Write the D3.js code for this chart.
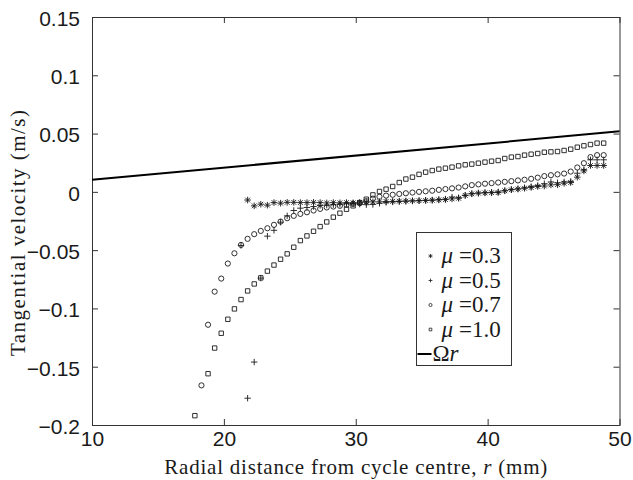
<!DOCTYPE html>
<html>
<head>
<meta charset="utf-8">
<script src="https://cdn.jsdelivr.net/npm/d3@7"></script>
<style>
  body { margin: 0; background: #fff; }
  svg { display: block; }
</style>
</head>
<body>
<div id="chart"></div>
<script>
// radial positions (mm) shared by all series
const rGrid = [
  17.8, 18.3, 18.8, 19.3, 19.8, 20.3, 20.8, 21.3, 21.8, 22.3,
  22.8, 23.3, 23.8, 24.3, 24.8, 25.3, 25.8, 26.3, 26.8, 27.3,
  27.8, 28.3, 28.8, 29.3, 29.8, 30.3, 30.8, 31.3, 31.8, 32.3,
  32.8, 33.3, 33.8, 34.3, 34.8, 35.3, 35.8, 36.3, 36.8, 37.3,
  37.8, 38.3, 38.8, 39.3, 39.8, 40.3, 40.8, 41.3, 41.8, 42.3,
  42.8, 43.3, 43.8, 44.3, 44.8, 45.3, 45.8, 46.3, 46.8, 47.3,
  47.8, 48.3, 48.8
];

// tangential velocity (m/s), null where no point is plotted
const mu03 = [
  null, null, null, null, null, null, null, null, -0.007, -0.012,
  -0.0106, -0.0114, -0.0092, -0.0097, -0.009, -0.009, -0.0092, -0.0092, -0.009, -0.0092,
  -0.0095, -0.0092, -0.0094, -0.0092, -0.0094, -0.009, -0.0088, -0.0086, -0.0085, -0.0083,
  -0.0082, -0.008, -0.0079, -0.0077, -0.0076, -0.0074, -0.0072, -0.0069, -0.0066, -0.006,
  -0.0055, -0.003, -0.0017, -0.0011, -0.0009, -0.0007, -0.0006, 0.0009, 0.0018, 0.0024,
  0.0031, 0.0038, 0.0046, 0.005, 0.006, 0.0062, 0.0074, 0.008, 0.0126, 0.018,
  0.0226, 0.0226, 0.0226
];
const mu05 = [
  null, null, null, null, null, null, null, -0.046, -0.177, -0.146,
  -0.074, -0.038, -0.033, -0.026, -0.0206, -0.016, -0.014, -0.0134, -0.0126, -0.0117,
  -0.0114, -0.011, -0.0106, -0.0102, -0.0099, -0.0105, -0.011, -0.0108, -0.0098, -0.009,
  -0.0086, -0.0083, -0.008, -0.0078, -0.0075, -0.0072, -0.007, -0.0066, -0.0062, -0.0045,
  -0.005, -0.003, -0.0015, -0.001, -0.0006, -0.0004, 0.0, 0.001, 0.002, 0.0026,
  0.0035, 0.0045, 0.0055, 0.007, 0.0085, 0.0078, 0.0085, 0.009, 0.016, 0.019,
  0.0275, 0.0275, 0.0275
];
const mu07 = [
  null, -0.166, -0.114, -0.0856, -0.0744, -0.0615, -0.0527, -0.0455, -0.0403, -0.0363,
  -0.0335, -0.0312, -0.0283, -0.0255, -0.0226, -0.0206, -0.0189, -0.0175, -0.016, -0.0146,
  -0.0134, -0.0126, -0.012, -0.0112, -0.0103, -0.0097, -0.008, -0.0058, -0.0042, -0.0032,
  -0.0025, -0.0018, -0.0012, -0.0006, 0.0, 0.0005, 0.001, 0.0017, 0.0024, 0.003,
  0.0037, 0.0047, 0.0058, 0.0064, 0.007, 0.0075, 0.008, 0.0086, 0.0092, 0.0098,
  0.0104, 0.0112, 0.0122, 0.0135, 0.0143, 0.015, 0.0157, 0.0174, 0.0209, 0.0246,
  0.0298, 0.0315, 0.0315
];
const mu10 = [
  -0.192, null, -0.156, -0.134, -0.1213, -0.1093, -0.1004, -0.0924, -0.085, -0.079,
  -0.0738, -0.068, -0.0628, -0.0578, -0.0532, -0.0475, -0.0418, -0.0378, -0.0338, -0.0298,
  -0.0258, -0.0217, -0.0183, -0.0149, -0.012, -0.0092, -0.0063, -0.0026, 0.0003, 0.0023,
  0.0046, 0.008, 0.011, 0.0126, 0.015, 0.0169, 0.0183, 0.0195, 0.0203, 0.0212,
  0.0223, 0.0232, 0.0238, 0.0246, 0.0255, 0.0263, 0.0269, 0.0286, 0.0298, 0.0303,
  0.0315, 0.0323, 0.0329, 0.034, 0.0343, 0.0346, 0.0355, 0.0366, 0.0383, 0.0395,
  0.0406, 0.0418, 0.0418
];

// solid-body rotation line, Omega*r
const omegaR = [0.0104, 0.0519];
const omegaRx = [10, 50];

const xTicks = [10, 20, 30, 40, 50];
const yTicks = [-0.2, -0.15, -0.1, -0.05, 0, 0.05, 0.1, 0.15];

const series = [
  { label: "0.3", values: mu03, marker: "star" },
  { label: "0.5", values: mu05, marker: "plus" },
  { label: "0.7", values: mu07, marker: "circle" },
  { label: "1.0", values: mu10, marker: "square" }
];

const W = 633, H = 480;
const margin = { top: 17, right: 13.5, bottom: 55, left: 92 };
const width = W - margin.left - margin.right;
const height = H - margin.top - margin.bottom;

const svg = d3.select("#chart").append("svg")
  .attr("width", W)
  .attr("height", H);
const g = svg.append("g").attr("transform", `translate(${margin.left},${margin.top})`);

const x = d3.scaleLinear().domain([10, 50]).range([0, width]);
const y = d3.scaleLinear().domain([-0.2, 0.15]).range([height, 0]);

const ink = "#1a1a1a";
const sans = "Liberation Sans, Arial, sans-serif";
const serif = "Liberation Serif, Times New Roman, serif";

// frame
g.append("rect")
  .attr("x", 0.5).attr("y", 0.5)
  .attr("width", width).attr("height", height)
  .attr("fill", "none").attr("stroke", "#333").attr("stroke-width", 1);

// inward ticks on all four sides
const tl = 6;
g.append("g").attr("transform", `translate(0,${height})`)
  .call(d3.axisBottom(x).tickValues(xTicks).tickSizeInner(-tl).tickSizeOuter(0).tickPadding(6).tickFormat(d3.format("d")))
  .call(a => a.select(".domain").remove())
  .call(a => a.selectAll("line").attr("stroke", "#333"))
  .call(a => a.selectAll("text").attr("fill", ink).style("font-family", sans).style("font-size", "21px"));
g.append("g")
  .call(d3.axisTop(x).tickValues(xTicks).tickSizeInner(-tl).tickSizeOuter(0).tickFormat(""))
  .call(a => a.select(".domain").remove())
  .call(a => a.selectAll("line").attr("stroke", "#333"));
g.append("g")
  .call(d3.axisLeft(y).tickValues(yTicks).tickSizeInner(-tl).tickSizeOuter(0).tickPadding(12)
    .tickFormat(d => d === 0 ? "0" : d3.format("")(d).replace("-", "\u2212")))
  .call(a => a.select(".domain").remove())
  .call(a => a.selectAll("line").attr("stroke", "#333"))
  .call(a => a.selectAll("text").attr("fill", ink).attr("dy", "0.4em").style("font-family", sans).style("font-size", "21px"));
g.append("g").attr("transform", `translate(${width},0)`)
  .call(d3.axisRight(y).tickValues(yTicks).tickSizeInner(-tl).tickSizeOuter(0).tickFormat(""))
  .call(a => a.select(".domain").remove())
  .call(a => a.selectAll("line").attr("stroke", "#333"));

// marker shapes, MATLAB style
function markerPath(type, s) {
  if (type === "star") {
    const a = s * 0.72;
    return `M${-s},0H${s}M0,${-s}V${s}M${-a},${-a}L${a},${a}M${-a},${a}L${a},${-a}`;
  }
  if (type === "plus") return `M${-s},0H${s}M0,${-s}V${s}`;
  if (type === "square") return `M${-s},${-s}H${s}V${s}H${-s}Z`;
  return `M${s},0A${s},${s} 0 1,1 ${-s},0A${s},${s} 0 1,1 ${s},0Z`;
}
const markerSize = { star: 3.3, plus: 3.2, circle: 2.6, square: 2.2 };

const plot = g.append("g");

// Omega r line
plot.append("line")
  .attr("x1", x(omegaRx[0])).attr("y1", y(omegaR[0]))
  .attr("x2", x(omegaRx[1])).attr("y2", y(omegaR[1]))
  .attr("stroke", "#000").attr("stroke-width", 2);

series.forEach(s => {
  const pts = rGrid.map((r, i) => [r, s.values[i]]).filter(d => d[1] !== null);
  plot.append("g").selectAll("path")
    .data(pts)
    .join("path")
    .attr("transform", d => `translate(${x(d[0])},${y(d[1])})`)
    .attr("d", markerPath(s.marker, markerSize[s.marker]))
    .attr("fill", "none")
    .attr("stroke", ink)
    .attr("stroke-width", 0.9);
});

// legend
const lg = svg.append("g").attr("transform", "translate(416.5,232.5)");
lg.append("rect")
  .attr("width", 95).attr("height", 133)
  .attr("fill", "#fff").attr("stroke", "#333").attr("stroke-width", 1);
const rowY = [23.5, 48, 72.5, 97, 121.5];
series.forEach((s, i) => {
  lg.append("path")
    .attr("transform", `translate(14,${rowY[i]})`)
    .attr("d", markerPath(s.marker, markerSize[s.marker] * 0.6))
    .attr("fill", "none").attr("stroke", ink).attr("stroke-width", 0.8);
  const t = lg.append("text")
    .attr("x", 25).attr("y", rowY[i] + 7)
    .style("font-family", serif)
    .style("font-size", "23px")
    .attr("fill", ink);
  t.append("tspan").style("font-style", "italic").text("\u03bc");
  t.append("tspan").attr("dx", 6).text("=" + s.label);
});
lg.append("line")
  .attr("x1", 1).attr("x2", 15)
  .attr("y1", rowY[4]).attr("y2", rowY[4])
  .attr("stroke", "#000").attr("stroke-width", 2);
const ot = lg.append("text")
  .attr("x", 16).attr("y", rowY[4] + 7)
  .style("font-family", serif)
  .style("font-size", "23px")
  .attr("fill", ink);
ot.append("tspan").text("\u03a9");
ot.append("tspan").style("font-style", "italic").text("r");

// axis titles
const xt = svg.append("text")
  .attr("x", margin.left + width / 2).attr("y", 474)
  .attr("text-anchor", "middle")
  .attr("textLength", 383)
  .attr("lengthAdjust", "spacing")
  .style("font-family", serif)
  .style("font-size", "21px")
  .attr("fill", ink);
xt.append("tspan").text("Radial distance from cycle centre, ");
xt.append("tspan").style("font-style", "italic").text("r");
xt.append("tspan").text(" (mm)");

svg.append("text")
  .attr("transform", `translate(25,${margin.top + height / 2 + 12}) rotate(-90)`)
  .attr("text-anchor", "middle")
  .attr("textLength", 246)
  .attr("lengthAdjust", "spacing")
  .style("font-family", serif)
  .style("font-size", "21px")
  .attr("fill", ink)
  .text("Tangential velocity (m/s)");
</script>
</body>
</html>
